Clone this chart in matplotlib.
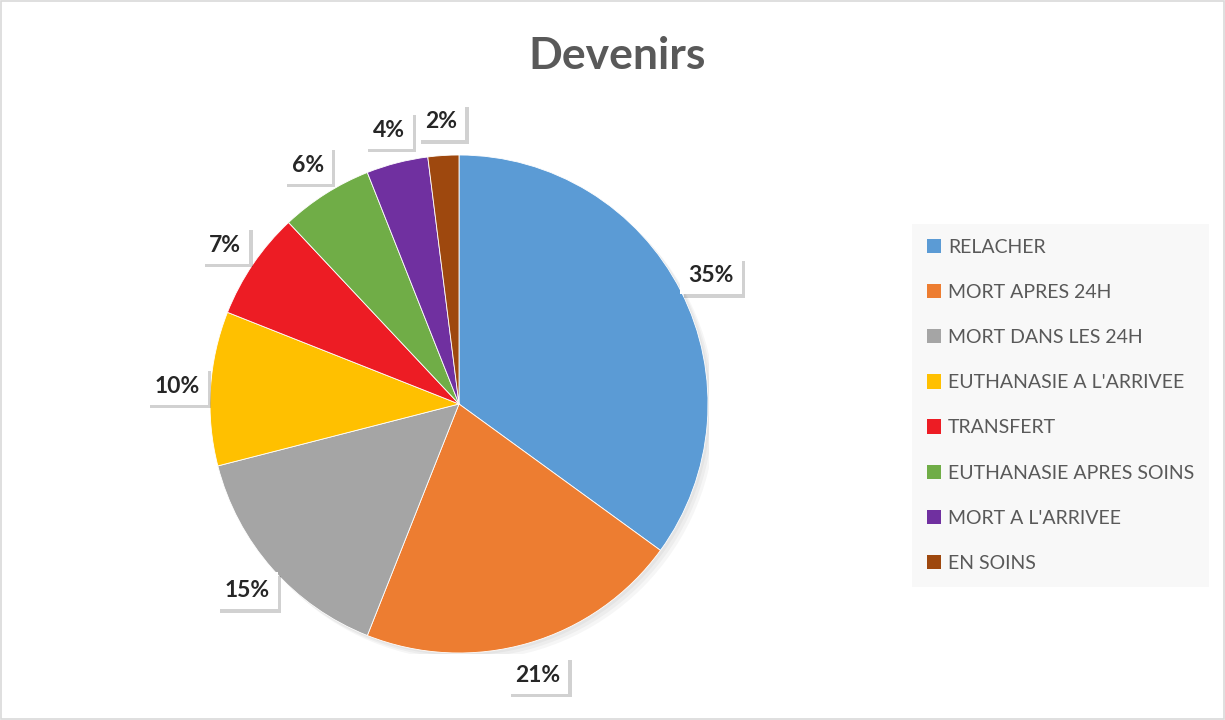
import matplotlib.pyplot as plt
import matplotlib.patheffects as pe
from matplotlib.patches import Patch, Rectangle, Circle

labels = ['RELACHER', 'MORT APRES 24H', 'MORT DANS LES 24H', "EUTHANASIE A L'ARRIVEE",
          'TRANSFERT', 'EUTHANASIE APRES SOINS', "MORT A L'ARRIVEE", 'EN SOINS']
values = [35, 21, 15, 10, 7, 6, 4, 2]
colors = ['#5B9BD5', '#ED7D31', '#A5A5A5', '#FFC000', '#ED1C24', '#70AD47', '#7030A0', '#9E480E']

plt.rcParams['font.family'] = ['Lato', 'DejaVu Sans']

fig = plt.figure(figsize=(12.25, 7.2), dpi=100)
W, H = 1225, 720
# pie axes: 500x500 px centred at (459, 404)
ax = fig.add_axes([(459 - 250) / W, (720 - 404 - 250) / H, 500 / W, 500 / H])

# soft shadow behind the pie
for i in range(3):
    ax.add_patch(Circle((0.010 * (i + 1), -0.010 * (i + 1)), 0.996, color='black', alpha=0.035, lw=0, zorder=0))

wedges, texts, autotexts = ax.pie(values, colors=colors, startangle=90, counterclock=False,
                                  radius=0.996, autopct='%d%%', pctdistance=1.135,
                                  wedgeprops=dict(edgecolor='white', linewidth=0.6),
                                  textprops=dict(fontsize=16.5, fontweight='bold', color='#262626'))
ax.set_xlim(-1, 1)
ax.set_ylim(-1, 1)
ax.set_aspect('equal')
ax.axis('off')

for t in autotexts:
    t.set_bbox(dict(boxstyle='square,pad=0.35', facecolor='white', edgecolor='none'))
    t.get_bbox_patch().set_path_effects([pe.withSimplePatchShadow(offset=(2.5, -2.5), shadow_rgbFace='black', alpha=0.18)])
    t.set_zorder(5)

fig.text(617 / W, 1 - 56 / H, 'Devenirs', ha='center', va='center', fontsize=32,
         fontweight='bold', color='#595959')

handles = [Patch(facecolor=c, edgecolor='none') for c in colors]
leg = fig.legend(handles, labels, loc='upper left', bbox_to_anchor=(912 / W, 1 - 224 / H),
                 fontsize=14, frameon=True, fancybox=False, facecolor='#F8F8F8', edgecolor='none',
                 framealpha=1, handlelength=0.75, handleheight=0.75, handletextpad=0.35,
                 labelspacing=1.45, borderpad=0.75, borderaxespad=0)
for t in leg.get_texts():
    t.set_color('#595959')

fig.add_artist(Rectangle((0.001, 0.001), 0.998, 0.997, transform=fig.transFigure,
                         fill=False, edgecolor='#D9D9D9', linewidth=1.2))

fig.savefig('out.png', dpi=100, facecolor='white')
